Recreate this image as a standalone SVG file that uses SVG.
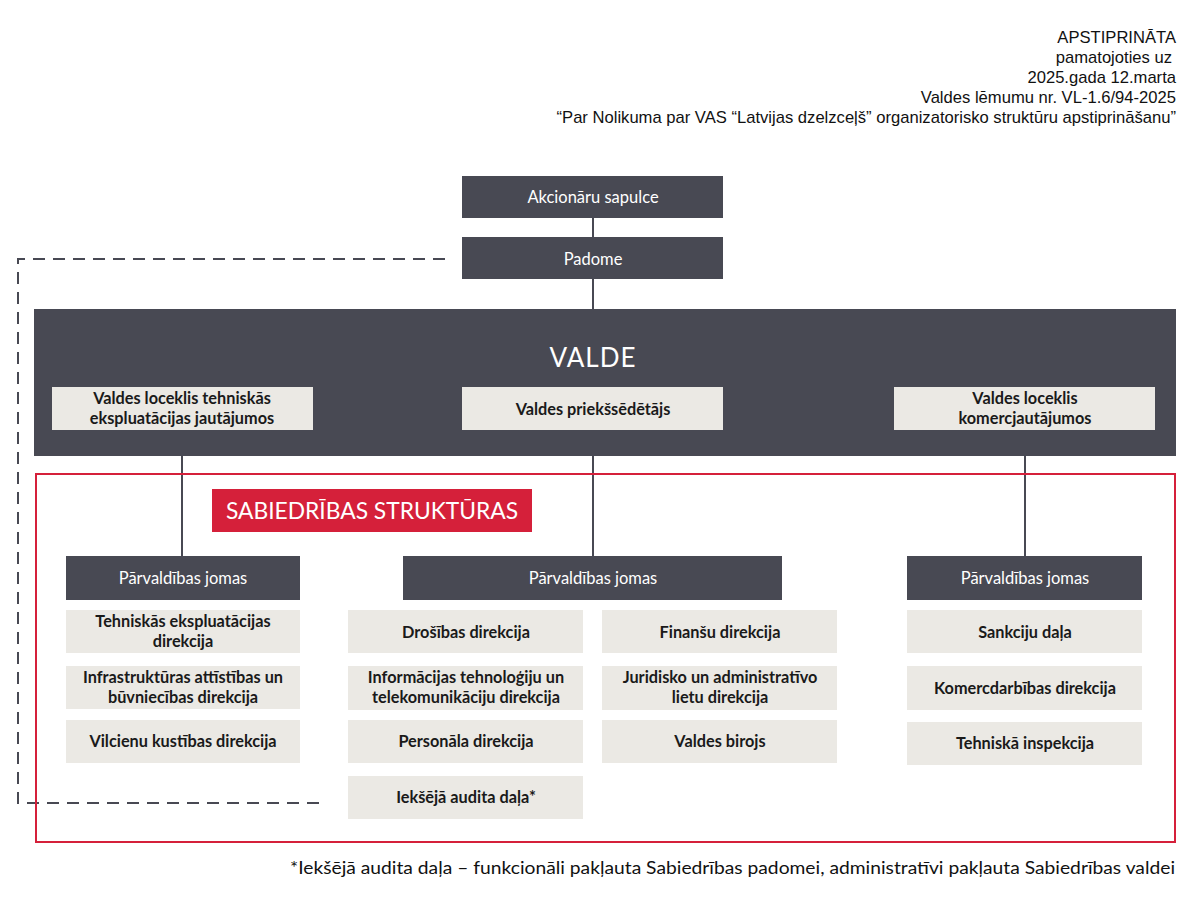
<svg xmlns="http://www.w3.org/2000/svg" width="1200" height="899" viewBox="0 0 1200 899">
<style>
.dk{fill:#484953}
.lt{fill:#ebe9e4}
.tw{fill:#ffffff;font-family:Lato,"Noto Sans",sans-serif;font-size:16.5px;text-anchor:middle}
.tb{fill:#1a1a1a;font-family:Lato,"Noto Sans",sans-serif;font-size:16.3px;font-weight:bold;text-anchor:middle}
.hd{fill:#111;font-family:"Liberation Sans",Arial,sans-serif;font-size:16.6px;text-anchor:end}
.ln{stroke:#484953;stroke-width:2;fill:none}
</style>
<rect width="1200" height="899" fill="#ffffff"/>
<g id="header">
<text class="hd" x="1176" y="43">APSTIPRINĀTA</text>
<text class="hd" x="1172" y="63">pamatojoties uz</text>
<text class="hd" x="1176" y="83">2025.gada 12.marta</text>
<text class="hd" x="1176" y="103">Valdes lēmumu nr. VL-1.6/94-2025</text>
<text class="hd" x="1176" y="123">“Par Nolikuma par VAS “Latvijas dzelzceļš” organizatorisko struktūru apstiprināšanu”</text>
</g>
<g id="connectors">
<line class="ln" x1="593" y1="218" x2="593" y2="237"/>
<line class="ln" x1="593" y1="279" x2="593" y2="309"/>
<line class="ln" x1="182" y1="456" x2="182" y2="556"/>
<line class="ln" x1="593" y1="456" x2="593" y2="556"/>
<line class="ln" x1="1025" y1="456" x2="1025" y2="556"/>
<polyline points="445,259 18,259 18,803 327,803" fill="none" stroke="#484953" stroke-width="2" stroke-dasharray="12,8"/>
</g>
<g id="frame">
<rect x="36" y="474" width="1139" height="368" fill="none" stroke="#d5203a" stroke-width="2"/>
</g>
<g id="akcionaru">
<rect class="dk" x="462" y="176" width="261" height="42"/>
<text class="tw" x="593" y="203">Akcionāru sapulce</text>
</g>
<g id="padome">
<rect class="dk" x="462" y="237" width="261" height="42"/>
<text class="tw" x="593" y="265">Padome</text>
</g>
<g id="valde">
<rect class="dk" x="34" y="309" width="1142" height="147"/>
<text x="593" y="367" fill="#ffffff" font-family="Lato,'Noto Sans',sans-serif" font-size="26" text-anchor="middle" letter-spacing="1">VALDE</text>
</g>
<g id="valde-tehn">
<rect class="lt" x="52" y="387" width="261" height="43"/>
<text class="tb" x="182" y="404">Valdes loceklis tehniskās</text>
<text class="tb" x="182" y="424">ekspluatācijas jautājumos</text>
</g>
<g id="valde-pr">
<rect class="lt" x="462" y="387" width="261" height="43"/>
<text class="tb" x="593" y="415">Valdes priekšsēdētājs</text>
</g>
<g id="valde-kom">
<rect class="lt" x="894" y="387" width="261" height="43"/>
<text class="tb" x="1025" y="404">Valdes loceklis</text>
<text class="tb" x="1025" y="424">komercjautājumos</text>
</g>
<g id="sabiedribas">
<rect x="212" y="489" width="320" height="43" fill="#d5203a"/>
<text x="372" y="519" fill="#ffffff" font-family="Lato,'Noto Sans',sans-serif" font-size="22.8" text-anchor="middle">SABIEDRĪBAS STRUKTŪRAS</text>
</g>
<g id="pj-left">
<rect class="dk" x="66" y="556" width="234" height="44"/>
<text class="tw" x="183" y="584">Pārvaldības jomas</text>
</g>
<g id="pj-mid">
<rect class="dk" x="403" y="556" width="379" height="44"/>
<text class="tw" x="593" y="584">Pārvaldības jomas</text>
</g>
<g id="pj-right">
<rect class="dk" x="907" y="556" width="235" height="44"/>
<text class="tw" x="1025" y="584">Pārvaldības jomas</text>
</g>
<g id="l1">
<rect class="lt" x="66" y="610" width="234" height="43"/>
<text class="tb" x="183" y="627">Tehniskās ekspluatācijas</text>
<text class="tb" x="183" y="647">direkcija</text>
</g>
<g id="l2">
<rect class="lt" x="66" y="666" width="234" height="43"/>
<text class="tb" x="183" y="683">Infrastruktūras attīstības un</text>
<text class="tb" x="183" y="703">būvniecības direkcija</text>
</g>
<g id="l3">
<rect class="lt" x="66" y="720" width="234" height="43"/>
<text class="tb" x="183" y="747">Vilcienu kustības direkcija</text>
</g>
<g id="m1">
<rect class="lt" x="348" y="610" width="235" height="43"/>
<text class="tb" x="466" y="638">Drošības direkcija</text>
</g>
<g id="m2">
<rect class="lt" x="348" y="666" width="235" height="44"/>
<text class="tb" x="466" y="683">Informācijas tehnoloģiju un</text>
<text class="tb" x="466" y="703">telekomunikāciju direkcija</text>
</g>
<g id="m3">
<rect class="lt" x="348" y="720" width="235" height="43"/>
<text class="tb" x="466" y="747">Personāla direkcija</text>
</g>
<g id="m4">
<rect class="lt" x="348" y="776" width="235" height="43"/>
<text class="tb" x="466" y="803">Iekšējā audita daļa*</text>
</g>
<g id="n1">
<rect class="lt" x="602" y="610" width="235" height="43"/>
<text class="tb" x="720" y="638">Finanšu direkcija</text>
</g>
<g id="n2">
<rect class="lt" x="602" y="666" width="235" height="44"/>
<text class="tb" x="720" y="683">Juridisko un administratīvo</text>
<text class="tb" x="720" y="703">lietu direkcija</text>
</g>
<g id="n3">
<rect class="lt" x="602" y="720" width="235" height="43"/>
<text class="tb" x="720" y="747">Valdes birojs</text>
</g>
<g id="r1">
<rect class="lt" x="907" y="610" width="235" height="43"/>
<text class="tb" x="1025" y="638">Sankciju daļa</text>
</g>
<g id="r2">
<rect class="lt" x="907" y="666" width="235" height="44"/>
<text class="tb" x="1025" y="694">Komercdarbības direkcija</text>
</g>
<g id="r3">
<rect class="lt" x="907" y="722" width="235" height="43"/>
<text class="tb" x="1025" y="749">Tehniskā inspekcija</text>
</g>
<g id="footnote">
<text x="290" y="874" fill="#111" font-family="Lato,'Noto Sans',sans-serif" font-size="18" textLength="885" lengthAdjust="spacingAndGlyphs">*Iekšējā audita daļa – funkcionāli pakļauta Sabiedrības padomei, administratīvi pakļauta Sabiedrības valdei</text>
</g>
</svg>
